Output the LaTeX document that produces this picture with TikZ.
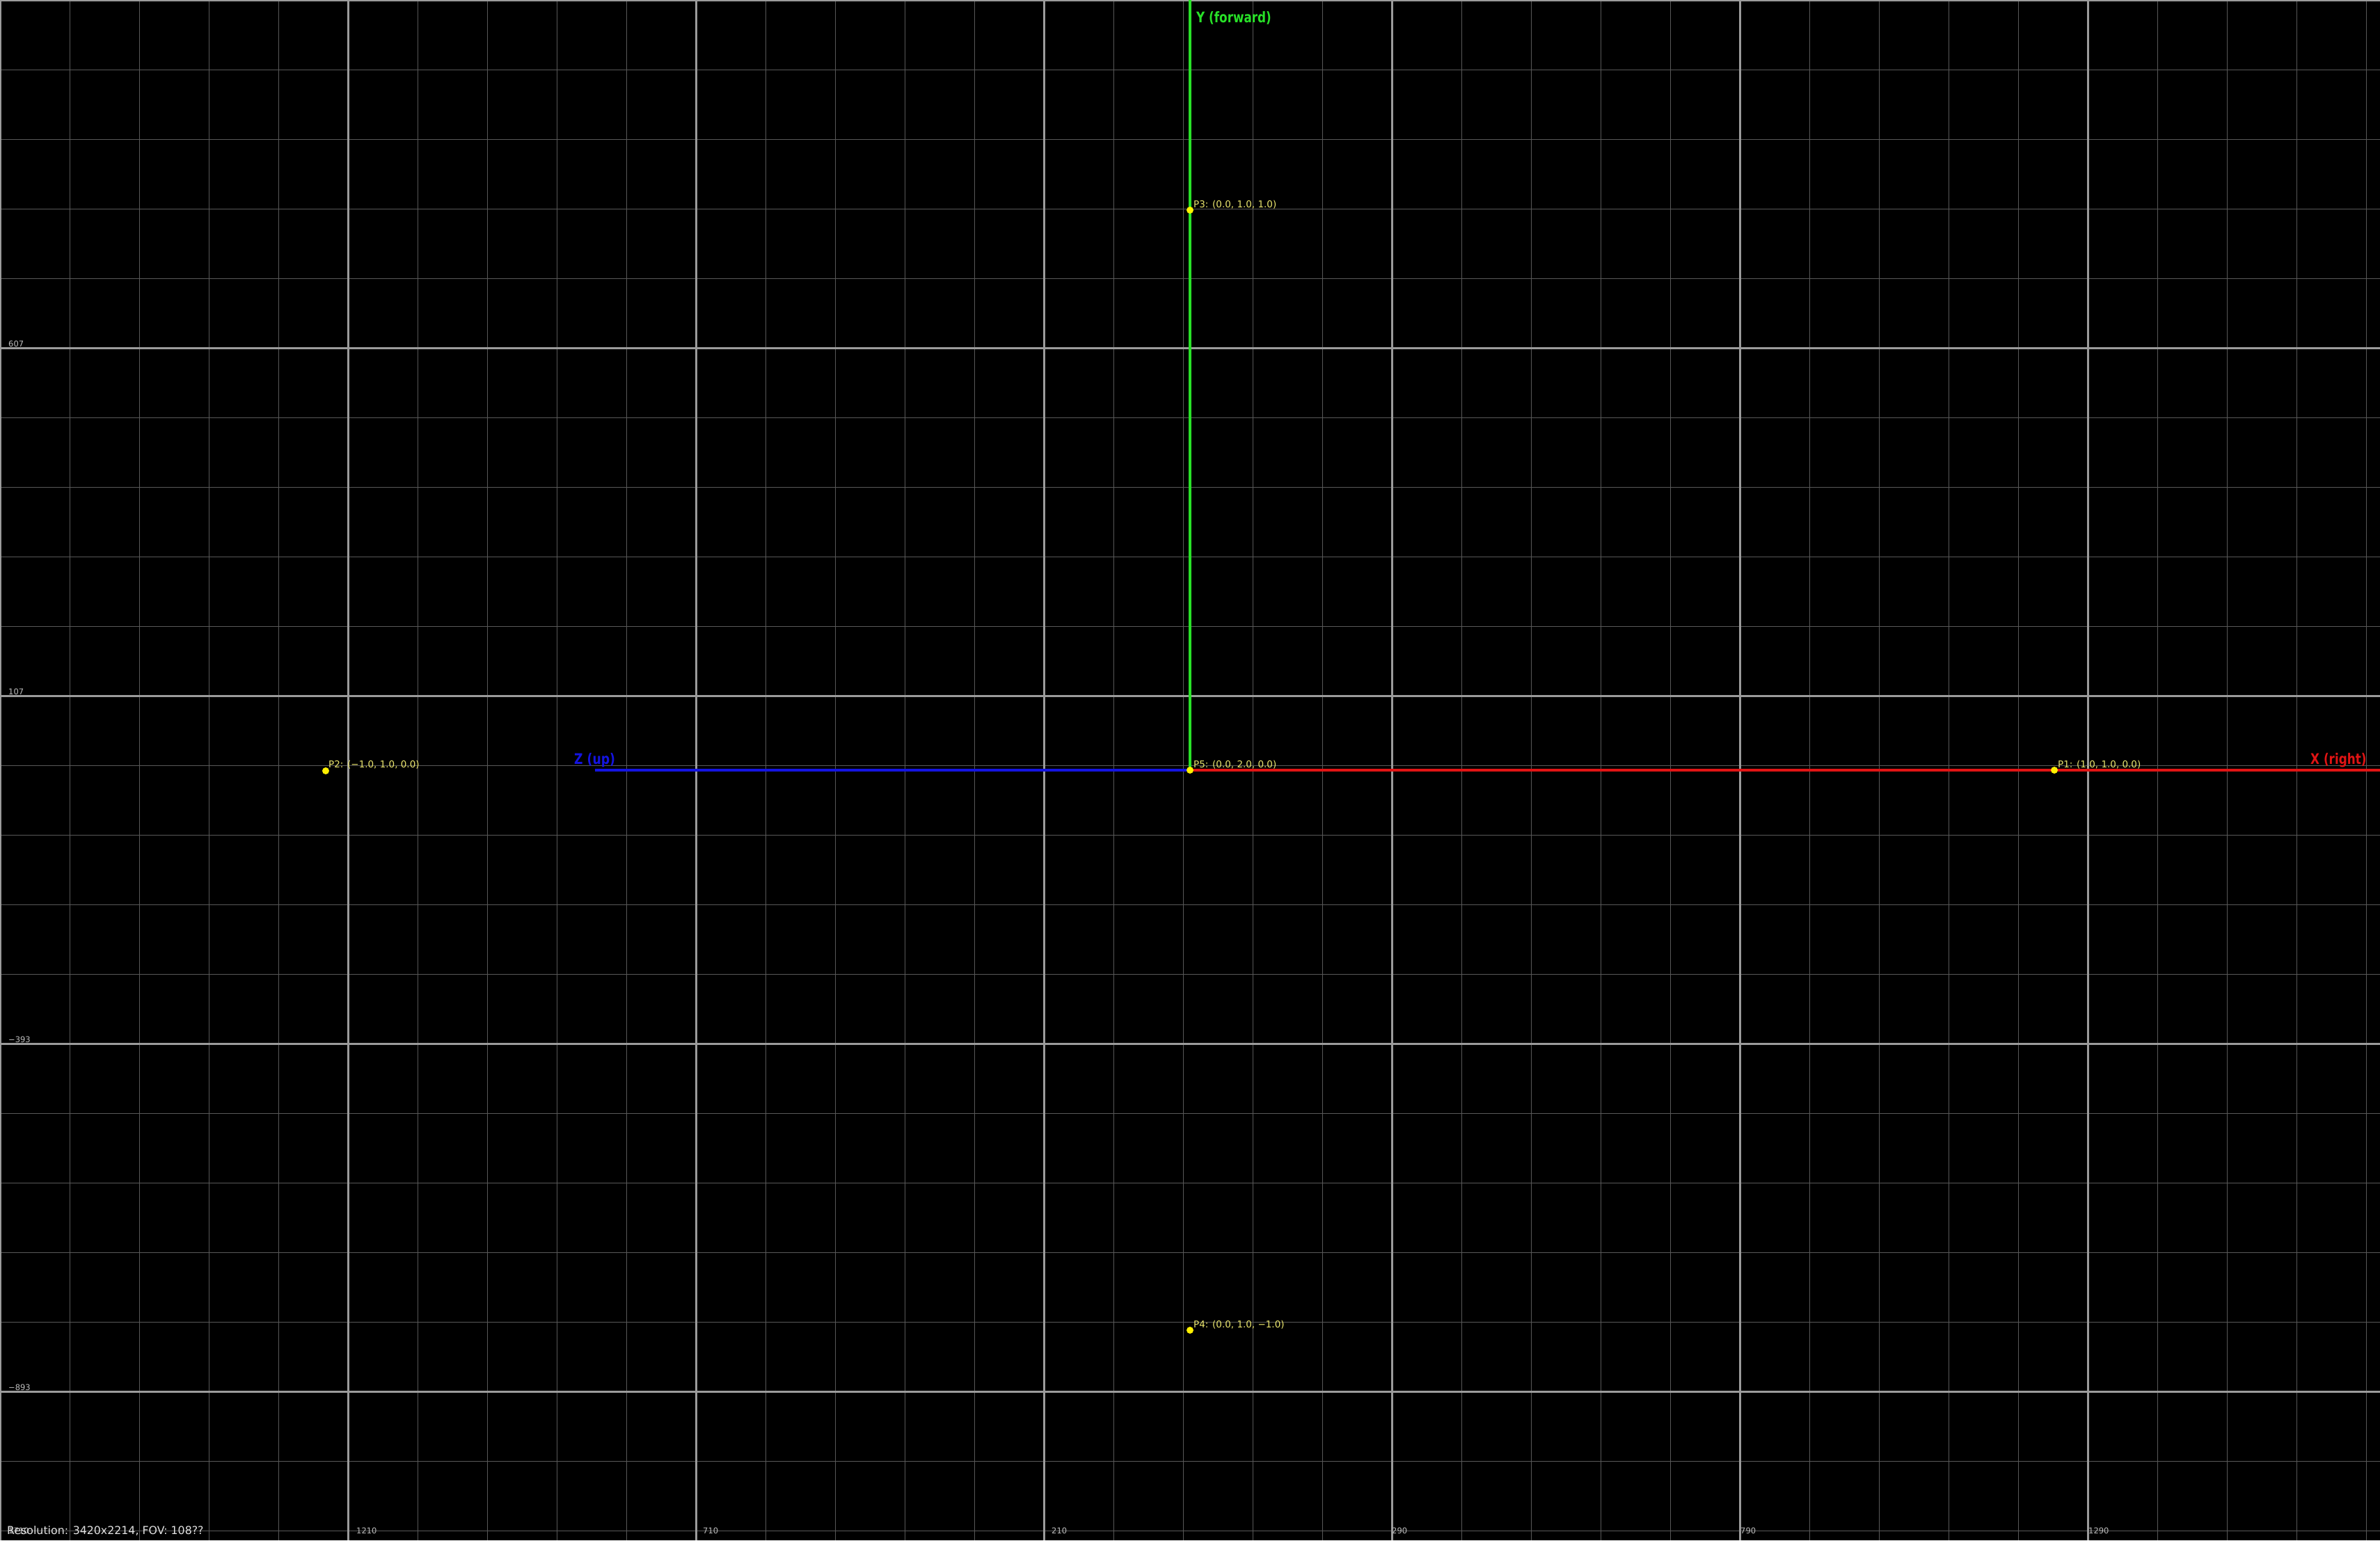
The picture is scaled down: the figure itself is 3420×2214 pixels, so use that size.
\documentclass[tikz,border=0pt]{standalone}
\usepackage{fontspec}
\setmainfont{DejaVu Sans}
\usepackage{graphicx}
\definecolor{minorgrid}{RGB}{88,88,88}
\definecolor{majorgrid}{RGB}{155,155,155}
\definecolor{axred}{RGB}{225,20,20}
\definecolor{axgreen}{RGB}{40,225,40}
\definecolor{axblue}{RGB}{20,20,225}
\definecolor{ptyellow}{RGB}{255,240,0}
\definecolor{ptlabel}{RGB}{235,230,110}
\definecolor{ticklabel}{RGB}{190,190,190}
\definecolor{infotext}{RGB}{225,225,225}
\begin{document}
\begin{tikzpicture}[x=1pt,y=-1pt,
  minorline/.style={draw=minorgrid,line width=1pt},
  majorline/.style={draw=majorgrid,line width=3pt},
  axisline/.style={line width=4pt},
  ptdot/.style={circle,fill=ptyellow,inner sep=0pt,minimum size=10pt},
  ptlab/.style={anchor=base west,inner sep=0pt,text=ptlabel,font=\fontsize{13.5}{14}\selectfont},
  axlab/.style={anchor=base west,inner sep=0pt,font=\bfseries\fontsize{21}{22}\selectfont},
  ticklab/.style={anchor=base west,inner sep=0pt,text=ticklabel,font=\fontsize{11.5}{12}\selectfont},
  infolab/.style={anchor=base west,inner sep=0pt,text=infotext,font=\fontsize{15.8}{16}\selectfont}]
\useasboundingbox (0,0) rectangle (3420,2214);
\fill[black] (0,0) rectangle (3420,2214);
% grid
\foreach \x in {100,200,...,3400} {\draw[minorline] (\x,0) -- (\x,2214);}
\foreach \y in {100,200,...,2200} {\draw[minorline] (0,\y) -- (3420,\y);}
\foreach \x in {0,500,...,3000} {\draw[majorline] (\x,0) -- (\x,2214);}
\foreach \y in {0,500,...,2000} {\draw[majorline] (0,\y) -- (3420,\y);}
% tick labels
\node[ticklab] (ty1) at (12,498) {607};
\node[ticklab] (ty2) at (12,998) {107};
\node[ticklab] (ty3) at (12,1498) {−393};
\node[ticklab] (ty4) at (12,1998) {−893};
\node[ticklab] (tx0) at (12,2204) {1710};
\node[ticklab] (tx1) at (512,2204) {1210};
\node[ticklab] (tx2) at (1010,2204) {710};
\node[ticklab] (tx3) at (1511,2204) {210};
\node[ticklab] (tx4) at (2000,2204) {290};
\node[ticklab] (tx5) at (2501,2204) {790};
\node[ticklab] (tx6) at (3001,2204) {1290};
\node[infolab] (info) at (10,2205) {Resolution: 3420x2214, FOV: 108??};
% axes
\coordinate (O) at (1710,1107);
\coordinate (xend) at (3420,1107);
\coordinate (yend) at (1710,0);
\coordinate (zend) at (855,1107);
\draw[axisline,axblue] (O) -- (zend);
\draw[axisline,axred] (O) -- (xend);
\draw[axisline,axgreen] (O) -- (yend);
\node[axlab,text=axgreen] (ylab) at (1719,32) {\scalebox{0.8}[1]{Y (forward)}};
\node[axlab,text=axblue] (zlab) at (825,1098) {\scalebox{0.82}[1]{Z (up)}};
\node[axlab,text=axred] (xlab) at (3320,1098) {\scalebox{0.8}[1]{X (right)}};
% points
\node[ptdot] (p1) at (2952,1107) {};
\node[ptdot] (p2) at (468,1108) {};
\node[ptdot] (p3) at (1710,302) {};
\node[ptdot] (p4) at (1710,1912) {};
\node[ptdot] (p5) at (O) {};
\node[ptlab] (l1) at (2957,1103) {P1: (1.0, 1.0, 0.0)};
\node[ptlab] (l2) at (472,1103) {P2: (−1.0, 1.0, 0.0)};
\node[ptlab] (l3) at (1715,298) {P3: (0.0, 1.0, 1.0)};
\node[ptlab] (l4) at (1715,1908) {P4: (0.0, 1.0, −1.0)};
\node[ptlab] (l5) at (1715,1103) {P5: (0.0, 2.0, 0.0)};
\end{tikzpicture}
\end{document}
